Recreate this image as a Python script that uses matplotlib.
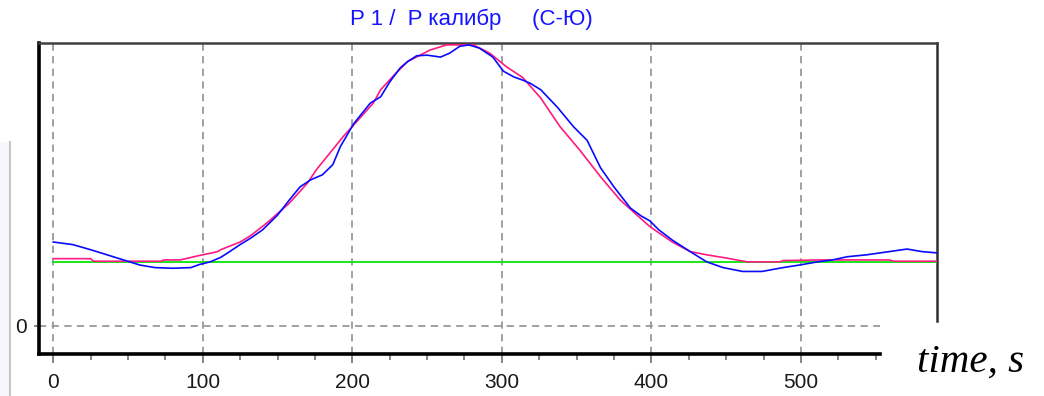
#!/usr/bin/env python3
"""P1 / P calibr (S-Yu) trace compared with the fitted curve."""

import matplotlib
matplotlib.use("Agg")
import matplotlib.pyplot as plt
from matplotlib.lines import Line2D
from matplotlib.patches import Rectangle

# measured ratio (blue)
meas_t = [0, 13, 25, 36, 47, 58, 68, 80, 92, 98, 105, 112, 118, 125, 132, 140,
          150, 158, 165, 172, 180, 187, 192, 201, 212, 219, 225, 232, 237, 243,
          250, 259, 265, 272, 278, 285, 294, 301, 308, 314, 319, 326, 337, 348,
          357, 366, 375, 386, 393, 399, 405, 414, 426, 437, 448, 461, 474, 488,
          499, 511, 521, 531, 544, 559, 571, 581, 591]
meas_v = [1.31, 1.27, 1.19, 1.11, 1.03, 0.95, 0.91, 0.90, 0.91, 0.96, 1.00,
          1.07, 1.16, 1.27, 1.37, 1.50, 1.73, 1.97, 2.17, 2.28, 2.36, 2.52,
          2.80, 3.16, 3.48, 3.58, 3.81, 4.03, 4.13, 4.22, 4.23, 4.20, 4.26,
          4.37, 4.39, 4.34, 4.20, 3.98, 3.89, 3.84, 3.79, 3.69, 3.42, 3.11,
          2.90, 2.47, 2.17, 1.84, 1.72, 1.64, 1.50, 1.34, 1.16, 1.00, 0.91,
          0.85, 0.85, 0.91, 0.95, 1.00, 1.03, 1.08, 1.11, 1.16, 1.20, 1.16,
          1.14]

# model curve (magenta)
model_t = [0, 25, 27, 72, 74, 85, 96, 110, 112, 125, 132, 143, 158, 170, 176,
           185, 194, 201, 214, 219, 228, 237, 252, 263, 281, 292, 303, 314,
           326, 339, 352, 366, 379, 399, 414, 426, 437, 450, 464, 486, 488,
           515, 559, 562, 591]
model_v = [1.05, 1.05, 1.01, 1.01, 1.03, 1.03, 1.09, 1.16, 1.19, 1.31, 1.41,
           1.61, 1.92, 2.23, 2.44, 2.70, 2.96, 3.14, 3.48, 3.69, 3.92, 4.13,
           4.31, 4.39, 4.39, 4.26, 4.05, 3.88, 3.56, 3.11, 2.75, 2.33, 1.97,
           1.55, 1.31, 1.16, 1.11, 1.06, 1.00, 1.00, 1.02, 1.03, 1.03, 1.01,
           1.01]

# calibration level (green)
base_t = [0, 591]
base_v = [1.0, 1.0]

x_ticks = [0, 100, 200, 300, 400, 500]
x_minor = [25, 50, 75, 125, 150, 175, 225, 250, 275, 325, 350, 375,
           425, 450, 475, 525, 550]
y_ticks = [0]

fig = plt.figure(figsize=(10.44, 3.96), dpi=100)
ax = fig.add_axes([39 / 1044, 42 / 396, 898 / 1044, 311 / 396])

ax.plot(base_t, base_v, color="#19e619", lw=1.4, zorder=3)
ax.plot(model_t, model_v, color="#ff1a80", lw=1.2, zorder=4)
ax.plot(meas_t, meas_v, color="#0a0aff", lw=1.2, zorder=5)

ax.set_xlim(-9.5, 591)
ax.set_ylim(-0.44, 4.42)

ax.set_xticks(x_ticks)
ax.set_xticks(x_minor, minor=True)
ax.set_yticks(y_ticks)
ax.tick_params(axis="x", which="major", length=6.5, width=1.2, color="#707070",
               labelsize=15, pad=7, labelcolor="#1a1a1a")
ax.tick_params(axis="x", which="minor", length=4, width=1.2, color="#707070")
ax.tick_params(axis="y", length=3.5, width=1.2, color="#707070",
               labelsize=15, pad=5, labelcolor="#1a1a1a")
for lab in ax.get_xticklabels() + ax.get_yticklabels():
    lab.set_family("Liberation Sans")

# vertical dashed grid, horizontal dashed line only at zero
ax.grid(axis="x", which="major", color="#999999", ls=(0, (4, 3)), lw=1.3)
ax.hlines(0, -9.5, 553, colors="#999999", linestyles=(0, (4, 3)), lw=1.3)

ax.spines["left"].set_linewidth(2.6)
ax.spines["left"].set_color("black")
ax.spines["bottom"].set_linewidth(2.6)
ax.spines["bottom"].set_color("black")
ax.spines["bottom"].set_bounds(-9.5, 553)
ax.spines["top"].set_linewidth(1.8)
ax.spines["top"].set_color("#404040")
ax.spines["right"].set_linewidth(1.8)
ax.spines["right"].set_color("#303030")
ax.spines["right"].set_bounds(0.07, 4.42)

fig.text(471 / 1044, 1 - 19 / 396, "P 1 /  P калибр     (С-Ю)", color="#1414ff",
         fontsize=16, family="Liberation Sans", ha="center", va="center")

fig.text(971 / 1044, 1 - 372 / 396, "time, s", fontsize=29.5,
         family="Liberation Serif", style="italic", ha="center", va="baseline")

# leftover window edge at the far left of the screenshot
fig.add_artist(Rectangle((0, 0), 9 / 1044, 254 / 396, transform=fig.transFigure,
                         color="#f5f7fa", lw=0))
fig.add_artist(Line2D([10 / 1044, 10 / 1044], [0, 254 / 396],
                      transform=fig.transFigure, color="#c8c8c8", lw=1.5))

fig.savefig("out.png", dpi=100)
